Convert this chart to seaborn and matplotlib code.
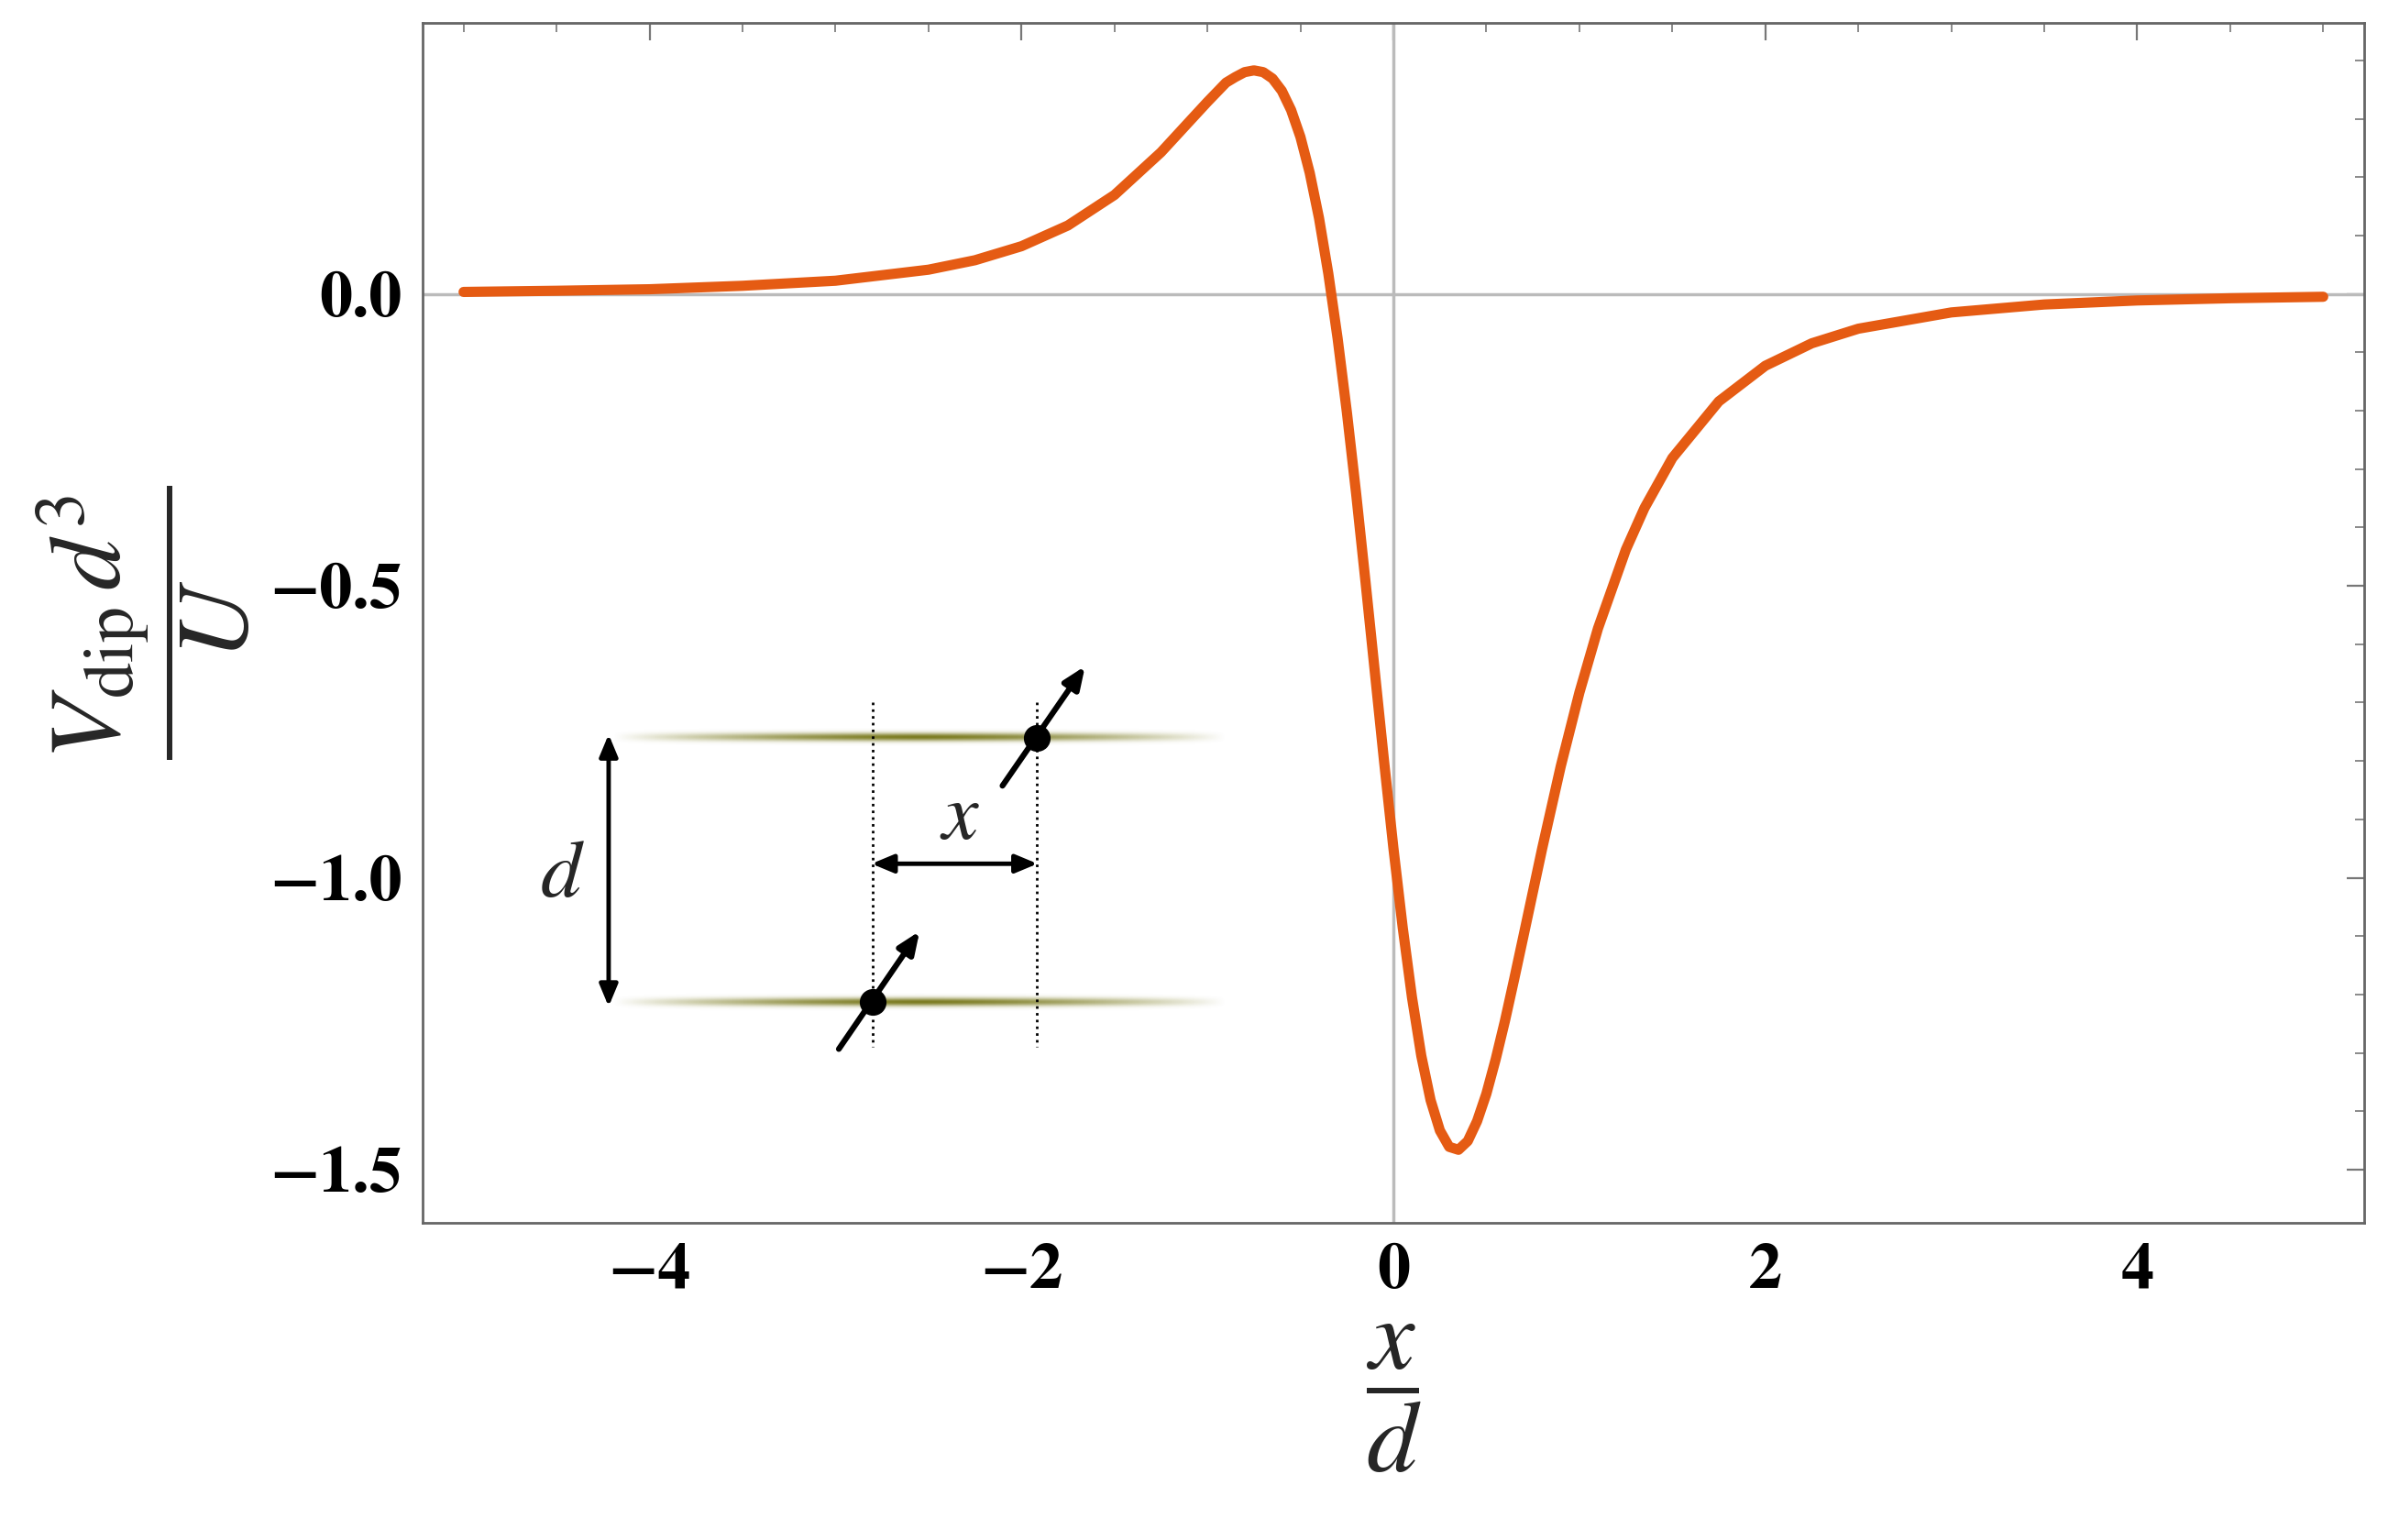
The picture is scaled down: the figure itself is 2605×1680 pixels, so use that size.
import numpy as np
import matplotlib
matplotlib.use("Agg")
import matplotlib.pyplot as plt
import seaborn as sns

x_vals = [-5, -4.5, -4, -3.5, -3, -2.5, -2.25, -2, -1.75, -1.5, -1.25, -1.1, -1, -0.9, -0.85, -0.8, -0.75, -0.7,
          -0.65, -0.6, -0.55, -0.5, -0.45, -0.4, -0.35, -0.3, -0.25, -0.2, -0.15, -0.1, -0.05, 0, 0.05, 0.1,
          0.15, 0.2, 0.25, 0.3, 0.35, 0.4, 0.45, 0.5, 0.55, 0.6, 0.65, 0.7, 0.8, 0.9, 1, 1.1, 1.25, 1.35,
          1.5, 1.75, 2, 2.25, 2.5, 3, 3.5, 4, 4.5, 5]
v_vals = [0.0035, 0.0055, 0.0081, 0.0140, 0.0227, 0.0416, 0.0578, 0.0818, 0.1174, 0.1696, 0.2426, 0.2945,
          0.329, 0.362, 0.3716, 0.380, 0.383, 0.380, 0.369, 0.348, 0.315, 0.269, 0.2075, 0.130, 0.035,
          -0.076, -0.203, -0.343, -0.493, -0.647, -0.801, -0.949, -1.085, -1.205, -1.305, -1.381, -1.433,
          -1.461, -1.466, -1.451, -1.417, -1.370, -1.311, -1.245, -1.173, -1.099, -0.950, -0.809, -0.683,
          -0.573, -0.438, -0.3667, -0.281, -0.184, -0.123, -0.0845, -0.0595, -0.0316, -0.018, -0.0111,
          -0.0073, -0.0048]
xticks = [-4, -2, 0, 2, 4]
yticks = [0.0, -0.5, -1.0, -1.5]

sns.set_theme(style="white")
plt.rcParams['font.family'] = ['STIXGeneral', 'DejaVu Serif']
plt.rcParams['mathtext.fontset'] = 'stix'

fig = plt.figure(figsize=(26.05, 16.8), dpi=100)
ax = fig.add_axes([0.177, 0.206, 0.813, 0.779])
ax.axhline(0, color='#bbbbbb', lw=2.5, zorder=1)
ax.axvline(0, color='#bbbbbb', lw=2.5, zorder=1)
sns.lineplot(x=x_vals, y=v_vals, ax=ax, color='#E55B13', lw=8, zorder=3,
             solid_joinstyle='round', solid_capstyle='round')
ax.set_xlim(-5.22, 5.22)
ax.set_ylim(-1.591, 0.464)
ax.set_xticks(xticks)
ax.set_xticklabels(['\u2212' + str(abs(t)) if t < 0 else str(t) for t in xticks])
ax.set_yticks(yticks)
ax.set_yticklabels(['\u2212%.1f' % abs(t) if t < 0 else '%.1f' % t for t in yticks])
ax.set_xticks(np.arange(-5, 5.01, 0.5), minor=True)
ax.set_yticks(np.arange(-1.5, 0.46, 0.1), minor=True)
ax.tick_params(which='both', direction='in', top=True, right=True, color='#777777',
               labelsize=52, labelcolor='black', pad=16)
ax.tick_params(which='major', length=14, width=1.6)
ax.tick_params(which='minor', length=7, width=1.2)
for lab in ax.get_xticklabels() + ax.get_yticklabels():
    lab.set_fontweight('semibold')
for s in ax.spines.values():
    s.set_color('#666666'); s.set_linewidth(2)
ax.set_xlabel(r'$\dfrac{x}{d}$', fontsize=80, labelpad=16)
ax.set_ylabel(r'$\dfrac{V_{\rm dip}\,d^3}{U}$', fontsize=80, labelpad=14)

# inset schematic
for yc in [-0.76, -1.213]:
    xs = np.linspace(-1, 1, 400)
    ys = np.linspace(-1, 1, 40)
    X, Y = np.meshgrid(xs, ys)
    alpha = np.exp(-(Y / 0.35) ** 2) * np.clip(1 - np.abs(X) ** 1.5, 0, 1) * 0.9
    img = np.zeros((40, 400, 4))
    img[..., 0] = 0.42; img[..., 1] = 0.42; img[..., 2] = 0.02
    img[..., 3] = alpha
    ax.imshow(img, extent=[-4.2, -0.9, yc - 0.02, yc + 0.02], aspect='auto', zorder=2, interpolation='bilinear')
for xd in [-2.80, -1.92]:
    ax.plot([xd, xd], [-0.70, -1.29], ls=':', color='black', lw=2, zorder=4)
arrow = dict(arrowstyle='<|-|>,head_length=1.2,head_width=0.5', color='black', lw=3.5)
ax.annotate('', xy=(-4.22, -0.75), xytext=(-4.22, -1.225), arrowprops=arrow, zorder=5)
ax.annotate('', xy=(-2.82, -0.976), xytext=(-1.90, -0.976), arrowprops=arrow, zorder=5)
one = dict(arrowstyle='-|>,head_length=1.2,head_width=0.5', color='black', lw=4.5)
ax.annotate('', xy=(-1.65, -0.634), xytext=(-2.11, -0.846), arrowprops=one, zorder=5)
ax.annotate('', xy=(-2.54, -1.088), xytext=(-2.99, -1.297), arrowprops=one, zorder=5)
ax.plot([-1.92, -2.80], [-0.76, -1.213], 'o', color='black', ms=20, zorder=6)
ax.text(-2.33, -0.90, r'$x$', fontsize=64, ha='center', va='center')
ax.text(-4.47, -1.0, r'$d$', fontsize=64, ha='center', va='center')

fig.savefig('out.png', dpi=100)
